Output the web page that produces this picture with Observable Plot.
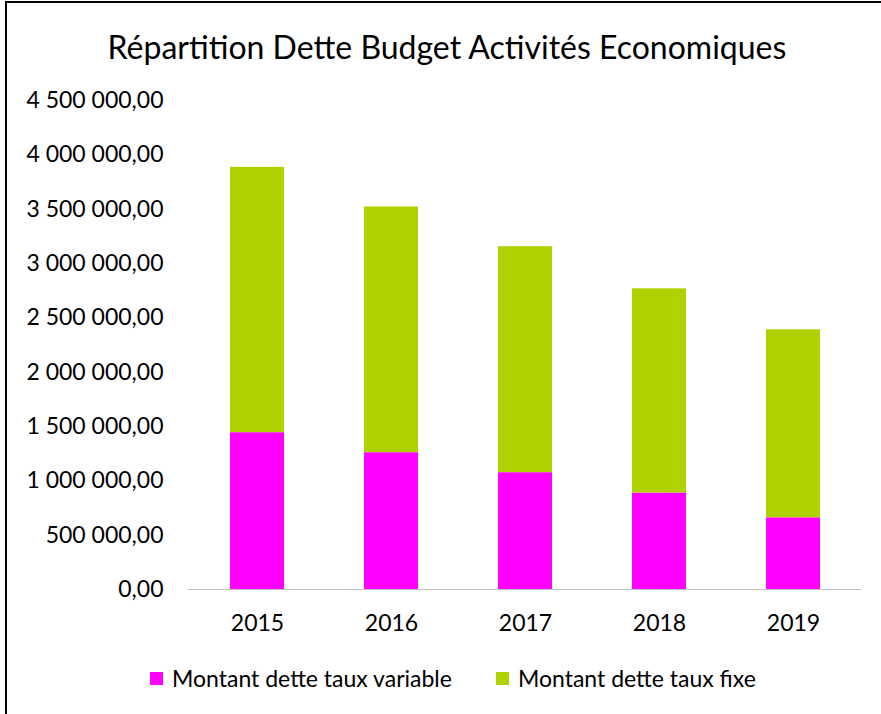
<!DOCTYPE html>
<html><head><meta charset="utf-8">
<script src="https://cdn.jsdelivr.net/npm/d3@7"></script>
<script src="https://cdn.jsdelivr.net/npm/@observablehq/plot@0.6"></script>
<style>
html,body{margin:0;padding:0;background:#fff}
#wrap{position:relative;width:881px;height:714px;overflow:hidden;font-family:Lato,"Open Sans",sans-serif;color:#000}
#border{position:absolute;left:5px;top:1px;right:-10px;bottom:-10px;border-top:2px solid #000;border-left:2px solid #000}
#title{position:absolute;left:0;width:894px;top:27px;text-align:center;font-size:32px;line-height:40px}
#legend{position:absolute;left:150px;top:664px;font-size:23px;line-height:28px;display:flex;align-items:center}
.sw{display:inline-block;width:13px;height:13px;margin-right:9px}
.item{display:flex;align-items:center;margin-right:44px}
#chart{position:absolute;left:0;top:0}
</style>
</head><body>
<div id="wrap">
<div id="border"></div>
<div id="title">Répartition Dette Budget Activités Economiques</div>
<div id="chart"></div>
<div id="legend"></div>
</div>
<script>
const years = ["2015","2016","2017","2018","2019"];
const seriesNames = ["Montant dette taux variable","Montant dette taux fixe"];
const variableValues = [1443000, 1259000, 1075000, 888000, 660000];
const fixedValues = [2442000, 2261000, 2080000, 1879000, 1730000];
const yTicks = [0,500000,1000000,1500000,2000000,2500000,3000000,3500000,4000000,4500000];
const colors = ["#FF00FF","#B0D000"];

const rows = [];
years.forEach((y,i)=>{
  rows.push({year:y, series:seriesNames[0], value:variableValues[i]});
  rows.push({year:y, series:seriesNames[1], value:fixedValues[i]});
});
const fmt = d3.formatLocale({decimal:",",thousands:" ",grouping:[3],currency:["","€"]}).format(",.2f");

const chart = Plot.plot({
  width:881, height:714,
  marginTop:100, marginBottom:125, marginLeft:188, marginRight:20,
  style:{fontFamily:"Lato, 'Open Sans', sans-serif", fontSize:"23px", color:"#000", background:"transparent"},
  x:{domain:years, paddingInner:0.6, paddingOuter:0.3, label:null},
  y:{domain:[0,4500000], label:null},
  color:{domain:seriesNames, range:colors},
  marks:[
    Plot.barY(rows, Plot.stackY({x:"year", y:"value", fill:"series", order:seriesNames})),
    Plot.ruleX([0], {frameAnchor:"left", stroke:"#bfbfbf"}),
    Plot.ruleY([0], {stroke:"#bfbfbf", strokeWidth:1.2}),
    Plot.axisY({ticks:yTicks, tickFormat:fmt, tickSize:0, tickPadding:25, fontSize:23, label:null}),
    Plot.axisX({tickSize:0, tickPadding:25, fontSize:23, label:null})
  ]
});
chart.querySelectorAll("text").forEach(t=>t.setAttribute("fill","#000"));
document.getElementById("chart").appendChild(chart);

const leg = document.getElementById("legend");
seriesNames.forEach((s,i)=>{
  const it = document.createElement("div"); it.className="item";
  const sw = document.createElement("span"); sw.className="sw"; sw.style.background=colors[i];
  it.appendChild(sw); it.appendChild(document.createTextNode(s));
  leg.appendChild(it);
});
</script>
</body></html>
